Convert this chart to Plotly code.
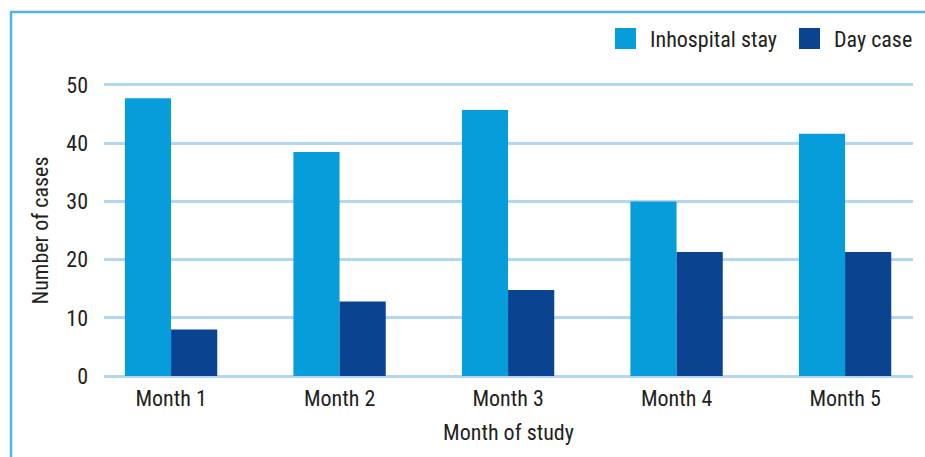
import plotly.graph_objects as go

months = ["Month 1", "Month 2", "Month 3", "Month 4", "Month 5"]
inhospital = [47.7, 38.5, 45.7, 30.0, 41.6]
day_case = [8.0, 12.8, 14.8, 21.3, 21.3]
series_names = ["Inhospital stay", "Day case"]
y_ticks = [0, 10, 20, 30, 40, 50]

c_in = "#079dda"
c_day = "#0a438f"
grid_c = "#b3d7f1"
frame_c = "#4db6e6"
txt_c = "#231f20"
FONT = "Liberation Sans Narrow, Roboto Condensed, Arial Narrow, Liberation Sans, sans-serif"
FS = 22

W, H = 925, 457
L, R, T, B = 104, W - 913, 82, 78

fig = go.Figure()
fig.add_bar(x=months, y=inhospital, name=series_names[0], marker_color=c_in, marker_line_width=0)
fig.add_bar(x=months, y=day_case, name=series_names[1], marker_color=c_day, marker_line_width=0)

fig.update_layout(
    width=W, height=H,
    margin=dict(l=L, r=R, t=T, b=B, pad=0),
    paper_bgcolor="white", plot_bgcolor="white",
    barmode="group", bargap=0.452, bargroupgap=0,
    showlegend=False,
    font=dict(family=FONT, size=FS, color=txt_c),
)
fig.update_xaxes(
    range=[-0.398, 4.403], showgrid=False, zeroline=False, showline=False,
    ticks="", tickfont=dict(size=FS, color=txt_c), ticklabelstandoff=4,
    title=dict(text="Month of study", font=dict(size=FS, color=txt_c), standoff=14),
)
fig.update_yaxes(
    range=[-0.5, 50.5], tickvals=y_ticks, showgrid=True, gridcolor=grid_c, gridwidth=3,
    zeroline=False, showline=False, ticks="", ticklabelstandoff=15,
    tickfont=dict(size=FS, color=txt_c),
    title=dict(text="Number of cases", font=dict(size=FS, color=txt_c), standoff=11),
)

# outer frame (top and left lines)
pw, ph = W - L - R, H - T - B
def px(x):
    return (x - L) / pw
def py(y):
    return (H - B - y) / ph

fig.add_shape(type="line", xref="paper", yref="paper",
              x0=px(11), x1=px(W), y0=py(12), y1=py(12),
              line=dict(color=frame_c, width=2.5))
fig.add_shape(type="line", xref="paper", yref="paper",
              x0=px(11), x1=px(11), y0=py(11), y1=py(H),
              line=dict(color=frame_c, width=2.5))

# manual legend
legend_items = [(series_names[0], c_in, 615, 648), (series_names[1], c_day, 799, 832)]
for name, col, sx, tx in legend_items:
    fig.add_shape(type="rect", xref="paper", yref="paper",
                  x0=px(sx), x1=px(sx + 21), y0=py(49), y1=py(28),
                  fillcolor=col, line=dict(width=0))
    fig.add_annotation(xref="paper", yref="paper", x=px(tx), y=py(39),
                       text=name, showarrow=False, xanchor="left", yanchor="middle",
                       font=dict(size=FS, color=txt_c))

fig.write_html("out.html")
